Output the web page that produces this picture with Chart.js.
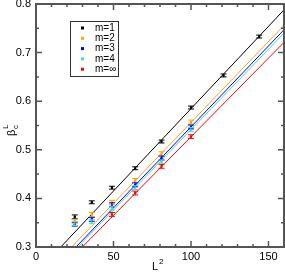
<!DOCTYPE html>
<html>
<head>
<meta charset="utf-8">
<script src="https://cdn.jsdelivr.net/npm/chart.js@4"></script>
<style>
  html, body { margin: 0; padding: 0; background: #fff; }
  #wrap { width: 285px; height: 273px; }
</style>
</head>
<body>
<div id="wrap"><canvas id="chartBeta" width="285" height="273"></canvas></div>
<script>
// L^2 values (L = 5..12)
const L2 = [25, 36, 49, 64, 81, 100, 121, 144];

const seriesLabels = ["m=1", "m=2", "m=3", "m=4", "m=\u221E"];
const seriesColors = ["#000000", "#FFA500", "#0000FF", "#40E0D0", "#FF0000"];

const betaM1 = [0.362, 0.392, 0.422, 0.462, 0.517, 0.587, 0.653, 0.733];
const betaM2 = [0.353, 0.367, 0.392, 0.437, 0.492, 0.557];
const betaM3 = [0.347, 0.357, 0.387, 0.428, 0.483, 0.547];
const betaM4 = [0.348, 0.352, 0.380, 0.422, 0.475, 0.542];
const betaMInf = [null, null, 0.367, 0.411, 0.466, 0.527];

const errM1 = [0.004, 0.003, 0.003, 0.003, 0.003, 0.003, 0.003, 0.003];
const errM2 = [0.004, 0.004, 0.004, 0.004, 0.004, 0.004];
const errM3 = [0.004, 0.004, 0.004, 0.004, 0.004, 0.004];
const errM4 = [0.004, 0.004, 0.004, 0.004, 0.004, 0.004];
const errMInf = [null, null, 0.004, 0.004, 0.004, 0.004];

// fit lines: start where they cross beta=0.3, end at L^2=160
const fitStartX = [16, 23, 25.8, 27, 29.9];
const fitEndY = [0.788, 0.756, 0.747, 0.740, 0.721];

const xTicks = [0, 50, 100, 150];
const yTicks = [0.3, 0.4, 0.5, 0.6, 0.7, 0.8];

const allBeta = [betaM1, betaM2, betaM3, betaM4, betaMInf];
const allErr = [errM1, errM2, errM3, errM4, errMInf];

const datasets = [];
for (var i = 0; i < allBeta.length; i++) {
    datasets.push({
        type: 'line',
        data: [{x: fitStartX[i], y: 0.3}, {x: 160, y: fitEndY[i]}],
        borderColor: seriesColors[i],
        borderWidth: 1,
        pointRadius: 0,
        pointHoverRadius: 0,
        fill: false,
        order: 2
    });
}
for (var i = 0; i < allBeta.length; i++) {
    var pts = [];
    var errs = [];
    for (var j = 0; j < allBeta[i].length; j++) {
        if (allBeta[i][j] !== null) {
            pts.push({x: L2[j], y: allBeta[i][j]});
            errs.push(allErr[i][j]);
        }
    }
    datasets.push({
        type: 'scatter',
        label: seriesLabels[i],
        data: pts,
        errors: errs,
        backgroundColor: seriesColors[i],
        borderColor: seriesColors[i],
        pointStyle: 'rect',
        pointRadius: 1.6,
        borderWidth: 0,
        order: 1
    });
}

const FAMILY = '"Liberation Sans", Arial, sans-serif';
const FONT = '11px ' + FAMILY;
const SMALL = '8px ' + FAMILY;
const AXIS_COLOR = '#555';

const framePlugin = {
    id: 'frame',
    afterDatasetsDraw(chart) {
        const ctx = chart.ctx;
        const xs = chart.scales.x, ys = chart.scales.y;
        const a = chart.chartArea;
        ctx.save();
        // error bars
        chart.data.datasets.forEach(function (ds) {
            if (!ds.errors) return;
            ctx.strokeStyle = ds.borderColor;
            ctx.lineWidth = 1;
            ds.data.forEach(function (p, k) {
                const px = xs.getPixelForValue(p.x);
                const y1 = ys.getPixelForValue(p.y - ds.errors[k]);
                const y2 = ys.getPixelForValue(p.y + ds.errors[k]);
                ctx.beginPath();
                ctx.moveTo(px, y1); ctx.lineTo(px, y2);
                ctx.moveTo(px - 3, y1); ctx.lineTo(px + 3, y1);
                ctx.moveTo(px - 3, y2); ctx.lineTo(px + 3, y2);
                ctx.stroke();
            });
        });
        // frame
        ctx.strokeStyle = AXIS_COLOR;
        ctx.lineWidth = 2;
        ctx.strokeRect(a.left, a.top, a.right - a.left, a.bottom - a.top);
        // inward ticks
        ctx.lineWidth = 1.5;
        ctx.beginPath();
        for (var v = 0; v <= 160; v += 10) {
            const px = xs.getPixelForValue(v);
            const len = (v % 50 === 0) ? 6 : 3;
            ctx.moveTo(px, a.bottom); ctx.lineTo(px, a.bottom - len);
            ctx.moveTo(px, a.top); ctx.lineTo(px, a.top + len);
        }
        for (var w = 30; w <= 80; w += 5) {
            const py = ys.getPixelForValue(w / 100);
            const len = (w % 10 === 0) ? 6 : 3;
            ctx.moveTo(a.left, py); ctx.lineTo(a.left + len, py);
            ctx.moveTo(a.right, py); ctx.lineTo(a.right - len, py);
        }
        ctx.stroke();
        // tick labels
        ctx.fillStyle = '#000';
        ctx.font = FONT;
        ctx.textAlign = 'center';
        ctx.textBaseline = 'top';
        xTicks.forEach(function (v) {
            ctx.fillText(String(v), xs.getPixelForValue(v), a.bottom + 4);
        });
        ctx.textAlign = 'right';
        ctx.textBaseline = 'middle';
        yTicks.forEach(function (v) {
            ctx.fillText(v.toFixed(1), a.left - 5, ys.getPixelForValue(v));
        });
        // legend
        const lx = 70, ly = 21, lw = 48, lh = 55;
        ctx.fillStyle = '#fff';
        ctx.fillRect(lx, ly, lw, lh);
        ctx.strokeStyle = '#333';
        ctx.lineWidth = 1;
        ctx.strokeRect(lx + 0.5, ly + 0.5, lw, lh);
        ctx.font = '10px ' + FAMILY;
        ctx.textBaseline = 'middle';
        ctx.textAlign = 'left';
        for (var s = 0; s < seriesLabels.length; s++) {
            const ry = ly + 7 + s * 10.3;
            ctx.fillStyle = seriesColors[s];
            ctx.fillRect(lx + 11, ry - 1.5, 3, 3);
            ctx.fillStyle = '#000';
            ctx.fillText(seriesLabels[s], lx + 25, ry);
        }
        // axis titles
        ctx.fillStyle = '#000';
        ctx.font = FONT;
        ctx.textAlign = 'left';
        ctx.textBaseline = 'alphabetic';
        ctx.fillText('L', 152, 270);
        ctx.font = SMALL;
        ctx.fillText('2', 159, 264);
        ctx.save();
        ctx.translate(15, 136);
        ctx.rotate(-Math.PI / 2);
        ctx.font = FONT;
        ctx.fillText('\u03B2', 0, 0);
        ctx.font = SMALL;
        ctx.fillText('c', 7, 3);
        ctx.fillText('L', 7, -7);
        ctx.restore();
        ctx.restore();
    }
};

const config = {
    data: { datasets: datasets },
    options: {
        responsive: false,
        animation: false,
        layout: { autoPadding: false, padding: { top: 4, right: 1, left: 0, bottom: 0 } },
        plugins: {
            legend: { display: false },
            tooltip: { enabled: false }
        },
        scales: {
            x: {
                type: 'linear',
                min: 0, max: 160,
                afterFit: function (s) { s.height = 26; },
                grid: { display: false, drawTicks: false },
                border: { display: false },
                ticks: { display: false }
            },
            y: {
                type: 'linear',
                min: 0.3, max: 0.8,
                afterFit: function (s) { s.width = 36; },
                grid: { display: false, drawTicks: false },
                border: { display: false },
                ticks: { display: false }
            }
        }
    },
    plugins: [framePlugin]
};

const myChart = new Chart(document.getElementById('chartBeta'), config);
</script>
</body>
</html>
